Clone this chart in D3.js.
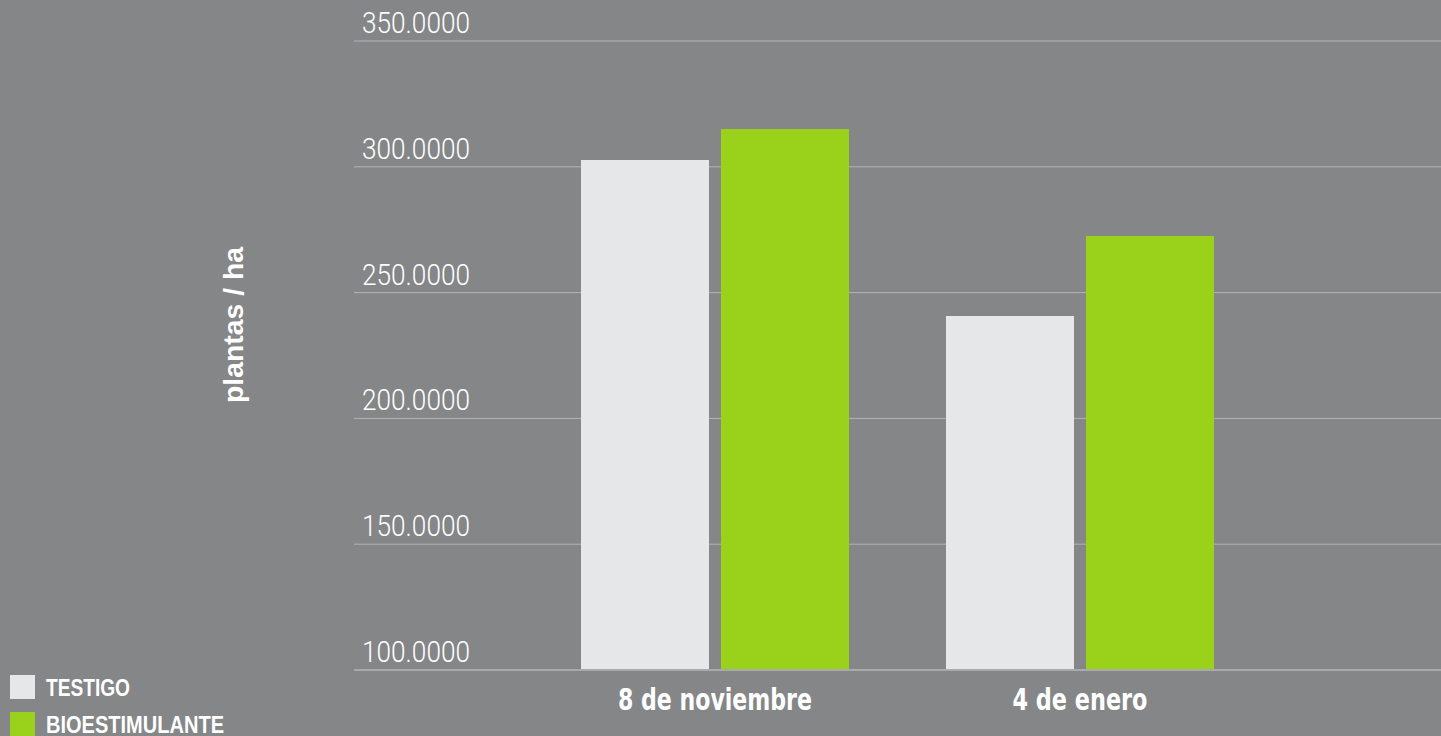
<!DOCTYPE html>
<html>
<head>
<meta charset="utf-8">
<script src="https://cdn.jsdelivr.net/npm/d3@7"></script>
<style>
  body { margin: 0; background: #858688; overflow: hidden; }
  svg { display: block; }
</style>
</head>
<body>
<script>
// data
const categories = ["8 de noviembre", "4 de enero"];
const series = ["TESTIGO", "BIOESTIMULANTE"];
const testigo = [302.7, 240.7];
const bioestimulante = [315.0, 272.5];
const yTicks = [100, 150, 200, 250, 300, 350];
const colors = ["#e6e7e8", "#9ad11a"];

const width = 1441, height = 736;
const plot = { left: 354, right: 1441, top: 41, bottom: 670 };

const svg = d3.select("body").append("svg")
  .attr("width", width)
  .attr("height", height);

const y = d3.scaleLinear().domain([100, 350]).range([plot.bottom, plot.top]);

// groups centred at ~715 and ~1080
const x0 = d3.scaleBand().domain(categories).range([532.5, 1262.5]).paddingInner(0).paddingOuter(0);
const x1 = d3.scaleBand().domain(series).range([0, 268]).paddingInner(0.0857);

/* gridlines + tick labels */
const grid = svg.append("g");
grid.selectAll("line")
  .data(yTicks)
  .enter().append("line")
  .attr("x1", plot.left).attr("x2", plot.right)
  .attr("y1", d => y(d)).attr("y2", d => y(d))
  .attr("stroke", d => d === 100 ? "#a9aaac" : "#b3b4b6")
  .attr("stroke-width", d => d === 100 ? 2 : 1);

grid.selectAll("text")
  .data(yTicks)
  .enter().append("text")
  .attr("x", 362)
  .attr("y", d => y(d) - 8)
  .attr("fill", "#ffffff")
  .attr("font-family", "Roboto, 'Liberation Sans Narrow', sans-serif")
  .attr("font-weight", 300)
  .attr("font-size", 30)
  .attr("textLength", 108)
  .attr("lengthAdjust", "spacingAndGlyphs")
  .text(d => d3.format(".4f")(d));

/* bars */
const rows = categories.map((c, i) => ({ cat: c, vals: [testigo[i], bioestimulante[i]] }));
const groups = svg.append("g").selectAll("g")
  .data(rows)
  .enter().append("g")
  .attr("transform", d => "translate(" + (x0(d.cat) + (x0.bandwidth() - 268) / 2) + ",0)");

groups.selectAll("rect")
  .data(d => d.vals.map((v, j) => ({ s: series[j], v: v, j: j })))
  .enter().append("rect")
  .attr("x", d => x1(d.s))
  .attr("width", x1.bandwidth())
  .attr("y", d => y(d.v))
  .attr("height", d => y(100) - y(d.v) - 1)
  .attr("fill", d => colors[d.j]);

/* x labels */
svg.append("g").selectAll("text")
  .data(categories)
  .enter().append("text")
  .attr("x", d => x0(d) + x0.bandwidth() / 2)
  .attr("y", 710)
  .attr("text-anchor", "middle")
  .attr("fill", "#ffffff")
  .attr("font-family", "'Liberation Sans Narrow', 'DejaVu Sans Condensed', sans-serif")
  .attr("font-weight", "bold")
  .attr("font-size", 31)
  .attr("textLength", (d, i) => i === 0 ? 194 : 135)
  .attr("lengthAdjust", "spacingAndGlyphs")
  .text(d => d);

// y axis title
svg.append("text")
  .attr("transform", "translate(243,325) rotate(-90)")
  .attr("text-anchor", "middle")
  .attr("fill", "#ffffff")
  .attr("font-family", "'Liberation Sans Narrow', sans-serif")
  .attr("font-weight", "bold")
  .attr("font-size", 27)
  .attr("textLength", 156)
  .attr("lengthAdjust", "spacingAndGlyphs")
  .text("plantas / ha");

// legend
const legend = svg.append("g").selectAll("g")
  .data(series)
  .enter().append("g")
  .attr("transform", (d, i) => "translate(10," + (675 + i * 37) + ")");

legend.append("rect")
  .attr("width", 25).attr("height", 24)
  .attr("fill", (d, i) => colors[i]);

legend.append("text")
  .attr("x", 36)
  .attr("y", 21)
  .attr("fill", "#ffffff")
  .attr("font-family", "'Liberation Sans Narrow', sans-serif")
  .attr("font-weight", "bold")
  .attr("font-size", 24)
  .attr("textLength", (d, i) => i === 0 ? 84 : 178)
  .attr("lengthAdjust", "spacingAndGlyphs")
  .text(d => d);
</script>
</body>
</html>
